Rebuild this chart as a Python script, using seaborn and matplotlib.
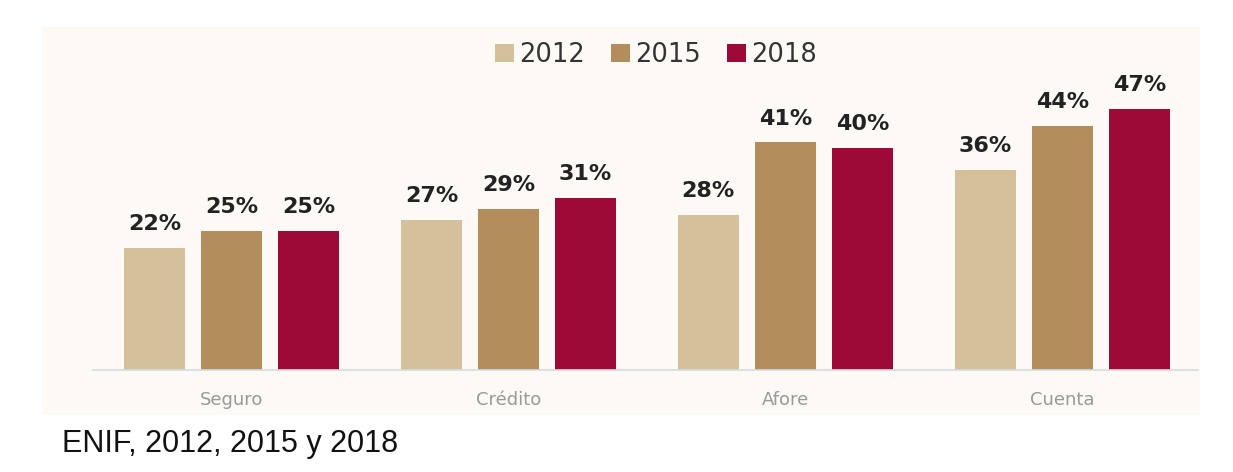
import matplotlib
matplotlib.use("Agg")
import matplotlib.pyplot as plt
import matplotlib.patches as mpatches
import seaborn as sns
import pandas as pd

categories = ["Seguro", "Crédito", "Afore", "Cuenta"]
years = ["2012", "2015", "2018"]
values_2012 = [22, 27, 28, 36]
values_2015 = [25, 29, 41, 44]
values_2018 = [25, 31, 40, 47]
colors = ["#D4C19C", "#B38E5D", "#9E0A36"]
caption = "ENIF, 2012, 2015 y 2018"

rows = []
for yr, vals in zip(years, [values_2012, values_2015, values_2018]):
    for c, v in zip(categories, vals):
        rows.append({"cat": c, "year": yr, "value": v})
df = pd.DataFrame(rows)

sns.set_theme(style="white")
plt.rcParams["font.family"] = ["DejaVu Sans"]

W, H = 1233, 472
fig = plt.figure(figsize=(W / 100, H / 100), dpi=100)

# light cream chart panel
fig.patches.append(mpatches.Rectangle((42 / W, 1 - 415 / H), (1200 - 42) / W, (415 - 27) / H,
                                      transform=fig.transFigure, facecolor="#FDFAF5",
                                      edgecolor="none", zorder=-5))

ax = fig.add_axes([93 / W, 1 - 370 / H, (1198 - 93) / W, (370 - 28) / H])
ax.set_zorder(2)
ax.set_facecolor("none")
ax.patch.set_alpha(0)
sns.barplot(data=df, x="cat", y="value", hue="year", palette=colors, order=categories,
            hue_order=years, width=0.834, gap=0.21, ax=ax, legend=False, saturation=1,
            linewidth=0, edgecolor="none")

for cont in ax.containers:
    ax.bar_label(cont, labels=[f"{int(v)}%" for v in cont.datavalues], padding=10,
                 fontsize=16, fontweight="bold", color="#222222")

ax.set_xlim(-0.5, 3.49)
ax.set_ylim(0, (370 - 28) / 5.55)
ax.set_xlabel("")
ax.set_ylabel("")
ax.set_yticks([])
for s in ["top", "right", "left"]:
    ax.spines[s].set_visible(False)
ax.spines["bottom"].set_color("#D5DBE3")
ax.spines["bottom"].set_linewidth(1.2)
ax.tick_params(axis="x", length=0, pad=15, labelsize=13, labelcolor="#999999")

handles = [mpatches.Patch(facecolor=c, edgecolor="none", label=y) for c, y in zip(colors, years)]
fig.legend(handles=handles, loc="center", bbox_to_anchor=(656 / W, 1 - 55 / H), ncol=3,
           frameon=False, fontsize=18.5, handlelength=0.75, handleheight=0.75,
           handletextpad=0.2, columnspacing=1.0, labelcolor="#333333")

fig.text(62 / W, 1 - 444 / H, caption, fontsize=22, family=["Liberation Sans", "DejaVu Sans"],
         color="#111111", va="center", ha="left")

fig.savefig("out.png", dpi=100, facecolor="white")
